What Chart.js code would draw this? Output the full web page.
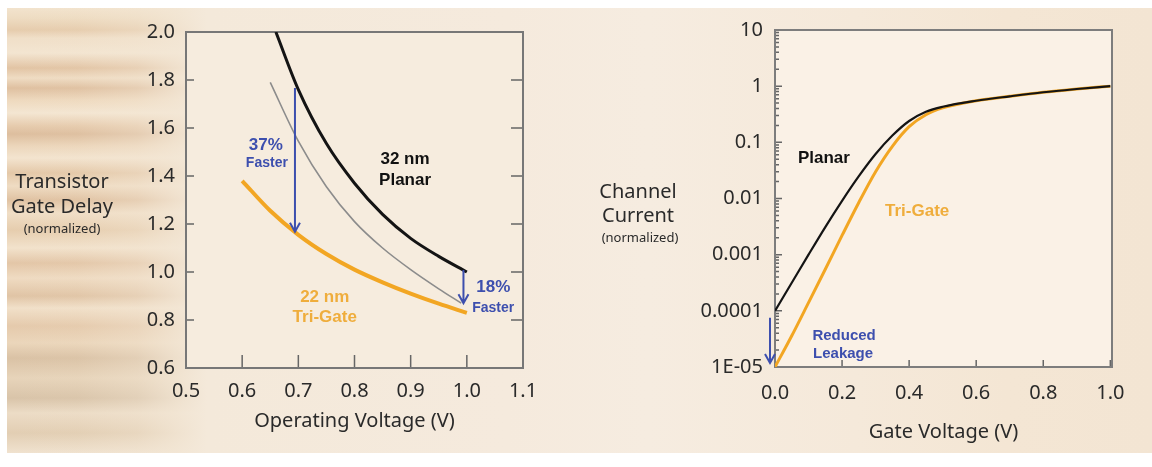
<!DOCTYPE html>
<html>
<head>
<meta charset="utf-8">
<script src="https://cdn.jsdelivr.net/npm/chart.js@4.4.1/dist/chart.umd.min.js"></script>
<style>
html, body { margin: 0; padding: 0; background: #fff; }
body { width: 1152px; height: 467px; position: relative; overflow: hidden; }
#bg {
  position: absolute; left: 7px; top: 8px; width: 1145px; height: 445px;
  background:
    linear-gradient(90deg, rgba(243,231,214,0) 0px, rgba(243,231,214,0.05) 70px, rgba(243,231,214,0.35) 130px, rgba(243,231,214,0.8) 170px, rgba(244,233,218,1) 200px, #f5eadd 500px, #f6ece0 640px, #f5e9da 850px, #f4e6d4 1000px, #f3e5d3 1145px),
    linear-gradient(180deg, #f2e3cd 0px, #eedcc2 10px, #e6ccad 22px, #f0dfc8 30px, #f3e5d1 45px, #e2c4a4 60px, #efdcc3 70px, #dfc0a0 80px, #eed9be 92px, #f4e6d2 105px, #e6cbad 118px, #ddbe9e 126px, #ecd6bb 138px, #f3e4cf 150px, #e4c8a8 165px, #efdcc3 178px, #e0c2a2 192px, #f0dec6 205px, #e6cdae 222px, #f2e2cc 240px, #e3c6a7 255px, #efdbc2 270px, #e0c4a5 288px, #f1e0c9 300px, #e5caac 318px, #ebd6bb 335px, #dac2a5 350px, #e7d4ba 370px, #d9c4a9 390px, #ecdcc6 405px, #e2ceb3 425px, #f0e2cf 445px);
}
#delay { position: absolute; left: 0; top: 0; }
#current { position: absolute; left: 580px; top: 0; }
</style>
</head>
<body>
<div id="bg"></div>
<canvas id="delay" width="580" height="467"></canvas>
<canvas id="current" width="572" height="467"></canvas>
<script>
// ---- left chart: gate delay vs operating voltage ----
var delayXTicks = [0.5, 0.6, 0.7, 0.8, 0.9, 1.0, 1.1];
var delayYTicks = [0.6, 0.8, 1.0, 1.2, 1.4, 1.6, 1.8, 2.0];

var planarVolts = [0.66, 0.7, 0.75, 0.8, 0.85, 0.9, 0.95, 1.0];
var planarDelay = [2.0, 1.76, 1.535, 1.37, 1.24, 1.14, 1.065, 1.0];
var scaledVolts = [0.65, 0.7, 0.75, 0.8, 0.85, 0.9, 0.95, 0.99];
var scaledDelay = [1.79, 1.545, 1.355, 1.21, 1.10, 1.01, 0.93, 0.87];
var triGateVolts = [0.6, 0.65, 0.7, 0.75, 0.8, 0.85, 0.9, 0.95, 1.0];
var triGateDelay = [1.38, 1.255, 1.155, 1.075, 1.01, 0.957, 0.91, 0.868, 0.83];

// ---- right chart: channel current vs gate voltage ----
var currentXTicks = [0, 0.2, 0.4, 0.6, 0.8, 1.0];
var currentYTicks = [1e-5, 1e-4, 1e-3, 1e-2, 0.1, 1, 10];
var currentYLabels = ['1E-05', '0.0001', '0.001', '0.01', '0.1', '1', '10'];

var gateVolts = [0, 0.05, 0.1, 0.15, 0.2, 0.25, 0.3, 0.35, 0.4, 0.45, 0.5, 0.6, 0.7, 0.8, 0.9, 1.0];
var planarCurrent = [1e-4, 3.16e-4, 1.0e-3, 3.1e-3, 9.1e-3, 0.025, 0.062, 0.132, 0.24, 0.35, 0.43, 0.55, 0.66, 0.78, 0.89, 1.0];
var triGateCurrent = [1e-5, 3.6e-5, 1.4e-4, 5.5e-4, 2.2e-3, 8.5e-3, 0.03, 0.085, 0.19, 0.31, 0.41, 0.55, 0.66, 0.78, 0.89, 1.0];

var TEXT = '#2a2a2a', BLUE = '#3d4fae', ORANGE = '#f2a623', ORANGE_TEXT = '#efad3c';
var FONT = '"Noto Sans", sans-serif', BOLD = '"Liberation Sans", Arial, sans-serif';

function points(xs, ys) {
  return xs.map(function (x, i) { return { x: x, y: ys[i] }; });
}

// plot fill, box and inward tick marks
var framePlugin = {
  id: 'frame',
  beforeDraw: function (chart, args, o) {
    var a = chart.chartArea, ctx = chart.ctx;
    ctx.save();
    ctx.fillStyle = o.fill;
    ctx.fillRect(a.left, a.top, a.right - a.left, a.bottom - a.top);
    ctx.restore();
  },
  beforeDatasetsDraw: function (chart, args, o) {
    var a = chart.chartArea, ctx = chart.ctx;
    var xs = chart.scales.x, ys = chart.scales.y;
    ctx.save();
    ctx.strokeStyle = o.tickColor;
    ctx.lineWidth = 1.5;
    ctx.beginPath();
    ys.ticks.forEach(function (t) {
      var y = ys.getPixelForValue(t.value);
      if (y > a.top + 1 && y < a.bottom - 1) {
        ctx.moveTo(a.left, y); ctx.lineTo(a.left + o.leftTick, y);
        if (o.rightTick) { ctx.moveTo(a.right, y); ctx.lineTo(a.right - o.rightTick, y); }
      }
      if (o.minorTick) {
        for (var m = 2; m <= 9; m++) {
          var v = t.value * m;
          if (v >= ys.max) break;
          var ym = ys.getPixelForValue(v);
          ctx.moveTo(a.left, ym); ctx.lineTo(a.left + o.minorTick, ym);
        }
      }
    });
    xs.ticks.forEach(function (t) {
      var x = xs.getPixelForValue(t.value);
      if (x > a.left + 1 && x < a.right - 1) {
        ctx.moveTo(x, a.bottom); ctx.lineTo(x, a.bottom - o.bottomTick);
      }
    });
    ctx.stroke();
    ctx.lineWidth = 2;
    ctx.strokeStyle = o.boxColor;
    ctx.strokeRect(a.left, a.top, a.right - a.left, a.bottom - a.top);
    ctx.restore();
  }
};

// annotation text, arrows and the horizontal y-axis title
var notesPlugin = {
  id: 'notes',
  afterDatasetsDraw: function (chart, args, o) {
    var ctx = chart.ctx, xs = chart.scales.x, ys = chart.scales.y;
    ctx.save();
    ctx.textAlign = 'center';
    ctx.textBaseline = 'middle';
    (o.labels || []).forEach(function (l) {
      ctx.font = 'bold ' + l.size + 'px ' + BOLD;
      ctx.fillStyle = l.color;
      ctx.fillText(l.text, xs.getPixelForValue(l.x), ys.getPixelForValue(l.y));
    });
    (o.arrows || []).forEach(function (ar) {
      var x = xs.getPixelForValue(ar.x) + (ar.dx || 0);
      var y1 = ys.getPixelForValue(ar.y1), y2 = ys.getPixelForValue(ar.y2);
      ctx.strokeStyle = BLUE;
      ctx.lineWidth = 2;
      ctx.beginPath();
      ctx.moveTo(x, y1); ctx.lineTo(x, y2);
      ctx.moveTo(x - 5, y2 - 9); ctx.lineTo(x, y2); ctx.lineTo(x + 5, y2 - 9);
      ctx.stroke();
    });
    ctx.fillStyle = TEXT;
    (o.title || []).forEach(function (t) {
      ctx.font = t.size + 'px ' + FONT;
      ctx.fillText(t.text, t.x, t.y);
    });
    ctx.restore();
  }
};

function tickFont() { return { family: FONT, size: 20 }; }

// ---------- left chart ----------
new Chart(document.getElementById('delay'), {
  type: 'line',
  data: {
    datasets: [
      { data: points(scaledVolts, scaledDelay), borderColor: '#8c8c8c', borderWidth: 1.6 },
      { data: points(planarVolts, planarDelay), borderColor: '#141414', borderWidth: 3 },
      { data: points(triGateVolts, triGateDelay), borderColor: ORANGE, borderWidth: 4 }
    ]
  },
  options: {
    responsive: false,
    animation: false,
    layout: { padding: { left: 0, top: 32, right: 57, bottom: 0 } },
    elements: { point: { radius: 0 }, line: { cubicInterpolationMode: 'monotone', fill: false } },
    plugins: {
      legend: { display: false },
      tooltip: { enabled: false },
      frame: { fill: '#f6ecde', tickColor: '#666', boxColor: '#777', leftTick: 8, rightTick: 12, bottomTick: 13 },
      notes: {
        labels: [
          { text: '37%', x: 0.642, y: 1.529, size: 17, color: BLUE },
          { text: 'Faster', x: 0.644, y: 1.454, size: 14, color: BLUE },
          { text: '32 nm', x: 0.89, y: 1.471, size: 17, color: '#111' },
          { text: 'Planar', x: 0.89, y: 1.383, size: 17, color: '#111' },
          { text: '22 nm', x: 0.747, y: 0.896, size: 17, color: ORANGE_TEXT },
          { text: 'Tri-Gate', x: 0.747, y: 0.8125, size: 17, color: ORANGE_TEXT },
          { text: '18%', x: 1.047, y: 0.9375, size: 17, color: BLUE },
          { text: 'Faster', x: 1.047, y: 0.85, size: 14, color: BLUE }
        ],
        arrows: [
          { x: 0.694, y1: 1.767, y2: 1.168 },
          { x: 0.994, y1: 1.008, y2: 0.87 }
        ],
        title: [
          { text: 'Transistor', x: 62, y: 182, size: 20 },
          { text: 'Gate Delay', x: 62, y: 207, size: 20 },
          { text: '(normalized)', x: 62, y: 229, size: 13 }
        ]
      }
    },
    scales: {
      x: {
        type: 'linear', min: 0.5, max: 1.1,
        afterBuildTicks: function (s) { s.ticks = delayXTicks.map(function (v) { return { value: v }; }); },
        afterFit: function (s) { s.height = 99; },
        grid: { display: false, drawTicks: false },
        border: { display: false },
        ticks: { padding: 11, maxRotation: 0, autoSkip: false, color: TEXT, font: tickFont(),
                 callback: function (v) { return v.toFixed(1); } },
        title: { display: true, text: 'Operating Voltage (V)', color: TEXT, font: { family: FONT, size: 20 },
                 padding: { top: 0, bottom: 34 } }
      },
      y: {
        type: 'linear', min: 0.6, max: 2.0,
        afterBuildTicks: function (s) { s.ticks = delayYTicks.map(function (v) { return { value: v }; }); },
        afterFit: function (s) { s.width = 186; },
        grid: { display: false, drawTicks: false },
        border: { display: false },
        ticks: { padding: 11, autoSkip: false, color: TEXT, font: tickFont(),
                 callback: function (v) { return v.toFixed(1); } }
      }
    }
  },
  plugins: [framePlugin, notesPlugin]
});

// ---------- right chart ----------
new Chart(document.getElementById('current'), {
  type: 'line',
  data: {
    datasets: [
      { data: points(gateVolts, planarCurrent), borderColor: '#141414', borderWidth: 2.2 },
      { data: points(gateVolts, triGateCurrent), borderColor: ORANGE, borderWidth: 3 }
    ]
  },
  options: {
    responsive: false,
    animation: false,
    layout: { padding: { left: 0, top: 30, right: 40, bottom: 0 } },
    elements: { point: { radius: 0 }, line: { cubicInterpolationMode: 'monotone', fill: false } },
    plugins: {
      legend: { display: false },
      tooltip: { enabled: false },
      frame: { fill: '#faf1e6', tickColor: '#666', boxColor: '#7d7d7d', leftTick: 7, rightTick: 0, minorTick: 4, bottomTick: 7 },
      notes: {
        labels: [
          { text: 'Planar', x: 0.146, y: 0.0518, size: 17, color: '#111' },
          { text: 'Tri-Gate', x: 0.424, y: 0.00586, size: 17, color: ORANGE_TEXT },
          { text: 'Reduced', x: 0.206, y: 3.58e-5, size: 15, color: BLUE },
          { text: 'Leakage', x: 0.203, y: 1.71e-5, size: 15, color: BLUE }
        ],
        arrows: [
          { x: 0, dx: -5, y1: 7.5e-5, y2: 1.18e-5 }
        ],
        title: [
          { text: 'Channel', x: 58, y: 192, size: 20 },
          { text: 'Current', x: 58, y: 216, size: 20 },
          { text: '(normalized)', x: 60, y: 238, size: 13 }
        ]
      }
    },
    scales: {
      x: {
        type: 'linear', min: 0, max: 1.005,
        afterBuildTicks: function (s) { s.ticks = currentXTicks.map(function (v) { return { value: v }; }); },
        afterFit: function (s) { s.height = 100; },
        grid: { display: false, drawTicks: false },
        border: { display: false },
        ticks: { padding: 14, maxRotation: 0, autoSkip: false, color: TEXT, font: tickFont(),
                 callback: function (v) { return v.toFixed(1); } },
        title: { display: true, text: 'Gate Voltage (V)', color: TEXT, font: { family: FONT, size: 20 },
                 padding: { top: 0, bottom: 23 } }
      },
      y: {
        type: 'logarithmic', min: 1e-5, max: 10,
        afterBuildTicks: function (s) { s.ticks = currentYTicks.map(function (v) { return { value: v }; }); },
        afterFit: function (s) { s.width = 195; },
        grid: { display: false, drawTicks: false },
        border: { display: false },
        ticks: { padding: 12, autoSkip: false, color: TEXT, font: tickFont(),
                 callback: function (v, i) { return currentYLabels[i]; } }
      }
    }
  },
  plugins: [framePlugin, notesPlugin]
});
</script>
</body>
</html>
